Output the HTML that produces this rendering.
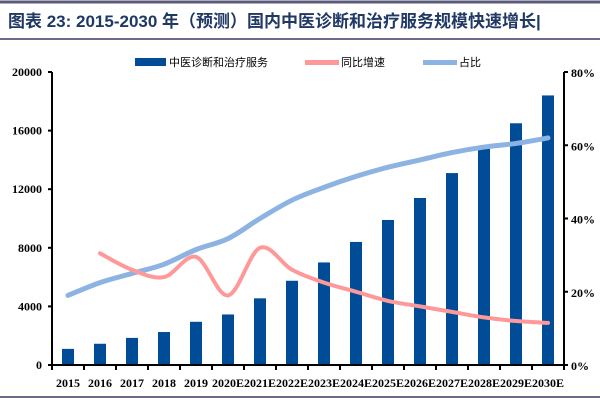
<!DOCTYPE html>
<html><head><meta charset="utf-8"><style>
body{margin:0;background:#fff;}
svg{display:block;font-family:"Liberation Serif","Noto Serif CJK SC",serif;}
</style></head><body>
<svg id="chart" width="600" height="400" viewBox="0 0 600 400">
<rect x="0" y="0" width="600" height="400" fill="#fff"/>
<line x1="0" y1="2" x2="600" y2="2" stroke="#5a5a7a" stroke-width="3"/>
<text x="8" y="27" font-size="17" font-weight="bold" fill="#1f3864" font-family="Liberation Sans,Noto Sans CJK SC,sans-serif">图表 23: 2015-2030 年（预测）国内中医诊断和治疗服务规模快速增长|</text>
<line x1="0" y1="39" x2="600" y2="39" stroke="#6a6a8a" stroke-width="2"/>
<line x1="0" y1="397" x2="600" y2="397" stroke="#6a6a8a" stroke-width="2"/>
<g>
<rect x="135" y="58" width="31" height="8" fill="#004c97"/>
<text x="169" y="66" font-size="11" font-family="Liberation Sans,Noto Sans CJK SC,sans-serif">中医诊断和治疗服务</text>
<rect x="305" y="60" width="34" height="5" fill="#ff9999"/>
<text x="341" y="66" font-size="11" font-family="Liberation Sans,Noto Sans CJK SC,sans-serif">同比增速</text>
<rect x="423" y="60" width="34" height="5" fill="#8db3e2"/>
<text x="459" y="66" font-size="11" font-family="Liberation Sans,Noto Sans CJK SC,sans-serif">占比</text>
</g>
<g id="plot"></g>
</svg>
<script>
const categories=["2015","2016","2017","2018","2019","2020E","2021E","2022E","2023E","2024E","2025E","2026E","2027E","2028E","2029E","2030E"];
const marketSize=[1100,1450,1850,2250,2950,3450,4550,5750,7000,8400,9900,11400,13100,14900,16500,18400];
const growthRate=[null,30.5,26,24,29.5,19,32,26,22.5,20,17.5,16,14.5,13,12,11.5];
const shareRate=[19,22.5,25,27.5,31.5,34.5,40,45,48.5,51.5,54,56,58,59.5,60.5,62];
const leftTicks=[0,4000,8000,12000,16000,20000];
const rightTicks=[0,20,40,60,80];

const NS="http://www.w3.org/2000/svg";
const g=document.getElementById('plot');
const X0=52,X1=564,Y0=365,Y1=72;
const band=(X1-X0)/categories.length;
const xc=i=>X0+band*(i+0.5);
const yL=v=>Y0-(v/20000)*(Y0-Y1);
const yR=v=>Y0-(v/80)*(Y0-Y1);
function mk(tag,attrs){const e=document.createElementNS(NS,tag);for(const k in attrs)e.setAttribute(k,attrs[k]);g.appendChild(e);return e;}

marketSize.forEach((v,i)=>{
 const r=mk('rect',{x:xc(i)-6,y:yL(v),width:12,height:Y0-yL(v),fill:'#004c97'});
 
 
});
function smooth(pts){let d='M'+pts[0][0]+','+pts[0][1];
 for(let i=0;i<pts.length-1;i++){const p0=pts[i-1]||pts[i],p1=pts[i],p2=pts[i+1],p3=pts[i+2]||p2;
  const c1=[p1[0]+(p2[0]-p0[0])/6,p1[1]+(p2[1]-p0[1])/6],c2=[p2[0]-(p3[0]-p1[0])/6,p2[1]-(p3[1]-p1[1])/6];
  d+=' C'+c1+' '+c2+' '+p2;}return d;}
const sp=shareRate.map((v,i)=>[xc(i),yR(v)]);
const sl=mk('path',{d:smooth(sp),fill:'none',stroke:'#8db3e2','stroke-width':5,'stroke-linecap':'round'});


const gp=[];growthRate.forEach((v,i)=>{if(v!=null)gp.push([xc(i),yR(v)]);});
const gl=mk('path',{d:smooth(gp),fill:'none',stroke:'#ff9999','stroke-width':4,'stroke-linecap':'round'});



const la=mk('line',{x1:X0,y1:Y1,x2:X0,y2:Y0,stroke:'#000','stroke-width':2});


const ra=mk('line',{x1:X1,y1:Y1,x2:X1,y2:Y0,stroke:'#000','stroke-width':2});


const xa=mk('line',{x1:X0,y1:Y0,x2:X1,y2:Y0,stroke:'#000','stroke-width':2});


leftTicks.forEach(v=>{
 mk('line',{x1:X0-4,y1:yL(v),x2:X0,y2:yL(v),stroke:'#000','stroke-width':2});
 const t=mk('text',{x:X0-10,y:yL(v)+4,'text-anchor':'end','font-size':12,'font-weight':'bold'});t.textContent=v;
 
 
});
rightTicks.forEach(v=>{
 mk('line',{x1:X1,y1:yR(v),x2:X1+4,y2:yR(v),stroke:'#000','stroke-width':2});
 const t=mk('text',{x:X1+7,y:yR(v)+5,'font-size':12,'font-weight':'bold'});t.textContent=v+'%';
 
 
});
categories.forEach((c,i)=>{
 mk('line',{x1:X0+band*i,y1:Y0,x2:X0+band*i,y2:Y0+5,stroke:'#000','stroke-width':2});
 const t=mk('text',{x:xc(i),y:Y0+22,'text-anchor':'middle','font-size':12,'font-weight':'bold'});t.textContent=c;
 
 
});
mk('line',{x1:X1,y1:Y0,x2:X1,y2:Y0+5,stroke:'#000','stroke-width':2});
</script>
</body></html>
